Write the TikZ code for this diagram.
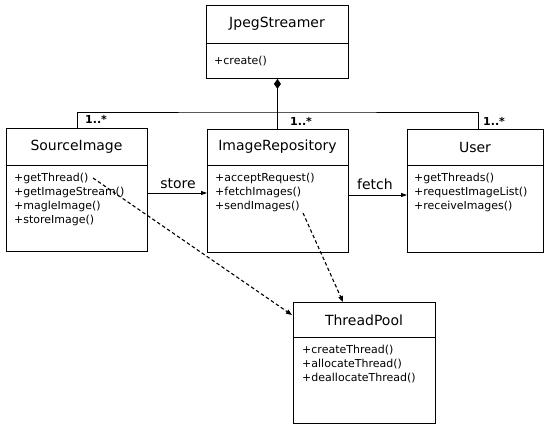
\documentclass[tikz,border=0pt]{standalone}
\usepackage{fontspec}
\setmainfont{DejaVu Sans}
\usetikzlibrary{arrows.meta}
\begin{document}
\begin{tikzpicture}[x=1pt,y=-1pt,
  umlbox/.style={draw, line width=0.9pt, inner sep=0pt, anchor=north west},
  divline/.style={line width=0.8pt},
  title/.style={font=\fontsize{14}{16}\selectfont, inner sep=0pt},
  methods/.style={font=\fontsize{11}{14}\selectfont, align=left, anchor=north west, inner sep=0pt},
  mult/.style={font=\fontsize{11}{13}\selectfont\bfseries, anchor=base west, inner sep=0pt},
  assoc/.style={line width=0.9pt},
  navig/.style={line width=0.8pt, -{Triangle[length=6pt,width=4pt]}},
  dep/.style={line width=1.1pt, dash pattern=on 3.5pt off 2.5pt, -{Triangle[length=6pt,width=4.5pt]}},
  lbl/.style={font=\fontsize{14}{16}\selectfont, inner sep=0pt, anchor=base}
]
\useasboundingbox (0,0) rectangle (546,425);

% JpegStreamer
\node[umlbox, minimum width=142pt, minimum height=73pt] (js) at (206,5) {};
\draw[divline] (206,43) -- (348,43);
\node[title] (jst) at (277,24) {JpegStreamer};
\node[methods] (jsm) at (214,56) {+create()};

% SourceImage
\node[umlbox, minimum width=141pt, minimum height=123pt] (si) at (6,128) {};
\draw[divline] (6,165) -- (147,165);
\node[title] (sit) at (76.5,147) {SourceImage};
\node[methods] (sim) at (14,173) {+getThread()\\+getImageStream()\\+magleImage()\\+storeImage()};

% ImageRepository
\node[umlbox, minimum width=141pt, minimum height=123pt] (ir) at (207,129) {};
\draw[divline] (207,165) -- (348,165);
\node[title] (irt) at (277.5,147) {ImageRepository};
\node[methods] (irm) at (215,173) {+acceptRequest()\\+fetchImages()\\+sendImages()};

% User
\node[umlbox, minimum width=136pt, minimum height=123pt] (us) at (407,129) {};
\draw[divline] (407,165) -- (543,165);
\node[title] (ust) at (475,147) {User};
\node[methods] (usm) at (414,173) {+getThreads()\\+requestImageList()\\+receiveImages()};

% ThreadPool
\node[umlbox, minimum width=142pt, minimum height=121pt] (tp) at (293,302) {};
\draw[divline] (293,337) -- (435,337);
\node[title] (tpt) at (364,320) {ThreadPool};
\node[methods] (tpm) at (302,345) {+createThread()\\+allocateThread()\\+deallocateThread()};

% composition from JpegStreamer
\draw[assoc, {Diamond[length=10pt,width=7pt]}-] (js.south) -- (ir.north -| js.south);
\coordinate (sitop) at (77,128);
\coordinate (junc) at (277,112);
\coordinate (ustop) at (478,129);
\draw[assoc] (sitop) |- (junc) -| (ustop);
\node[mult] (m1) at (85,124) {1..*};
\node[mult] (m2) at (290,125) {1..*};
\node[mult] (m3) at (483,125) {1..*};

% navigable associations
\coordinate (sty) at (0,193);
\coordinate (fty) at (0,195);
\draw[navig] (si.east |- sty) -- (ir.west |- sty);
\draw[navig] (ir.east |- fty) -- (us.west |- fty);
\node[lbl] (store) at (178,188) {store};
\node[lbl] (fetch) at (375,189) {fetch};

% dependencies
\coordinate (d1s) at (93,178);
\coordinate (d1e) at (292,315);
\coordinate (d2s) at (303,213);
\coordinate (d2e) at (343,302);
\draw[dep] (d1s) -- (d1e);
\draw[dep] (d2s) -- (d2e);
\end{tikzpicture}
\end{document}
